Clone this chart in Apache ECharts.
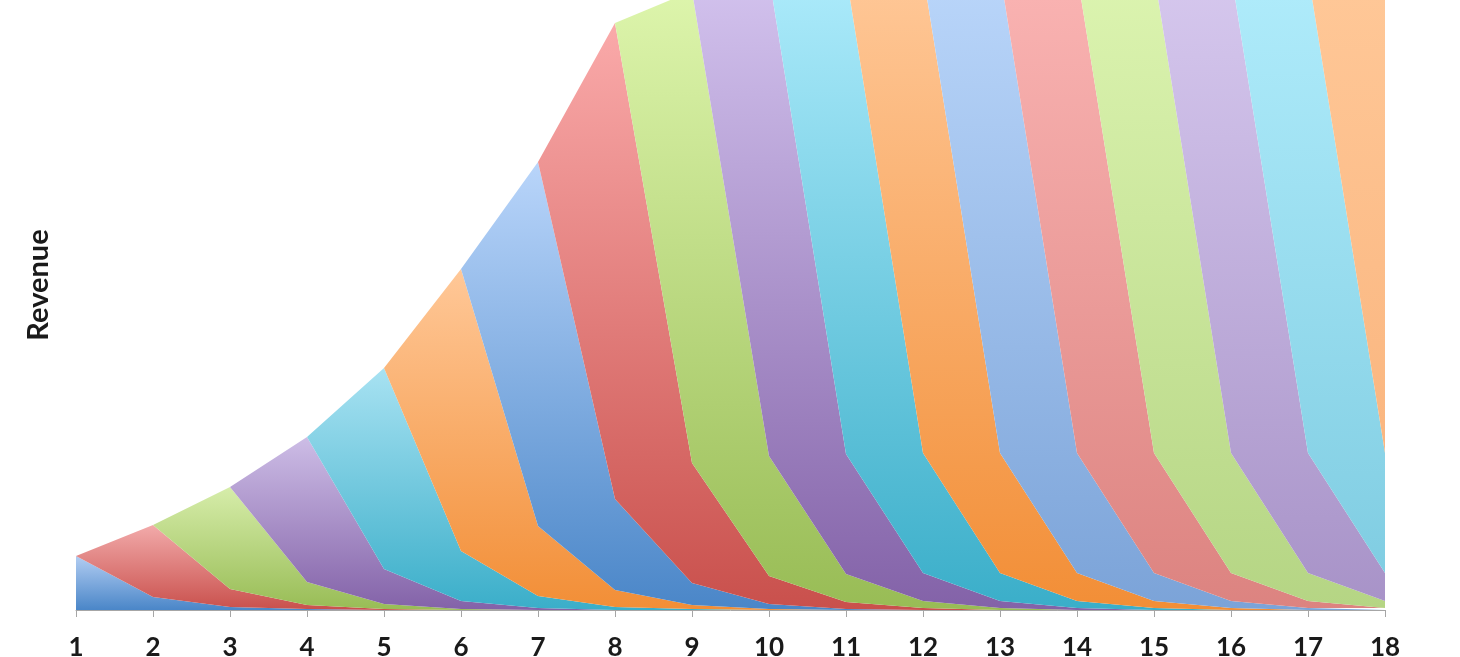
<!DOCTYPE html>
<html><head><meta charset="utf-8">
<script src="https://cdn.jsdelivr.net/npm/echarts@6/dist/echarts.min.js"></script>
<style>html,body{margin:0;padding:0;background:#fff}#c{width:1460px;height:657px}</style>
</head><body><div id="c"></div>
<script>
// Periods on the x axis
const periods = ['1','2','3','4','5','6','7','8','9','10','11','12','13','14','15','16','17','18'];

// Revenue of each cohort by age (age 0 = the period the cohort starts)
const cohort01 = [54, 13, 3, 1];
const cohort02 = [72, 18, 4, 1];
const cohort03 = [102, 23, 5, 1];
const cohort04 = [145, 35, 8, 2];
const cohort05 = [201, 50, 12, 3, 1];
const cohort06 = [282, 70, 17, 4, 1];
const cohort07 = [364, 91, 22, 5, 1];
const cohort08 = [476, 120, 28, 7, 2];
const cohort09 = [472, 120, 28, 7, 2];
const cohort10 = [480, 120, 28, 7, 2];
const cohort11 = [480, 120, 28, 7, 2];
const cohort12 = [480, 120, 28, 7, 2];
const cohort13 = [480, 120, 28, 7, 2];
const cohort14 = [480, 120, 28, 7, 2];
const cohort15 = [480, 120, 28, 7, 2];
const cohort16 = [480, 120, 28, 7, 2];
const cohort17 = [480, 120, 28, 7, 2];
const cohort18 = [480];

const cohorts = [cohort01,cohort02,cohort03,cohort04,cohort05,cohort06,cohort07,cohort08,cohort09,
                 cohort10,cohort11,cohort12,cohort13,cohort14,cohort15,cohort16,cohort17,cohort18];

// styles
const topColors = ['#B2CDF2','#F2AAAA','#D6EDAA','#CDBDE6','#A8E2F2','#FFC898',
                   '#B9D5FA','#FAAAAA','#DDF5AC','#D3C3EE','#ADEBFB','#FFC898',
                   '#BAD6FA','#FAB4B3','#DCF4B0','#D6C8EE','#B0ECFB','#FFC898'];
const bottomColors = ['#4A86C8','#C9504C','#98BC55','#8362A8','#3AAEC9','#F28E36',
                      '#4A86C8','#C9504C','#98BC55','#8362A8','#3AAEC9','#F28E36',
                      '#7BA3D8','#DC8380','#B5D584','#A893C8','#80CDE2','#F9B27A'];

const series = cohorts.map((c, k) => {
  const data = periods.map((p, j) => {
    const age = j - k;
    return (age >= 0 && age < c.length) ? c[age] : 0;
  });
  return {
    name: 'Cohort ' + (k + 1),
    type: 'line',
    stack: 'revenue',
    data: data,
    symbol: 'none',
    showSymbol: false,
    clip: true,
    lineStyle: { width: 0, opacity: 0 },
    areaStyle: {
      opacity: 1,
      color: new echarts.graphic.LinearGradient(0, 0, 0, 1, [
        { offset: 0, color: topColors[k] },
        { offset: 1, color: bottomColors[k] }
      ])
    },
    emphasis: { disabled: true }
  };
});

const chart = echarts.init(document.getElementById('c'), null, { renderer: 'canvas' });
chart.setOption({
  animation: false,
  backgroundColor: '#ffffff',
  grid: { left: 76, right: 75, top: 0, bottom: 47, containLabel: false, outerBoundsMode: 'none' },
  xAxis: {
    type: 'category',
    data: periods,
    boundaryGap: false,
    axisLine: { show: true, lineStyle: { color: '#A6A6A6', width: 1 } },
    axisTick: { show: true, length: 7, interval: 0, lineStyle: { color: '#A6A6A6', width: 1 } },
    axisLabel: { interval: 0, margin: 25, fontFamily: 'Lato', fontWeight: 'bold', fontSize: 26, color: '#1A1A1A' },
    splitLine: { show: false }
  },
  yAxis: {
    type: 'value',
    min: 0,
    max: 610,
    axisLine: { show: false },
    axisTick: { show: false },
    axisLabel: { show: false },
    splitLine: { show: false }
  },
  graphic: [{
    type: 'text',
    x: 39,
    y: 285,
    rotation: Math.PI / 2,
    style: {
      text: 'Revenue',
      fontFamily: 'Lato',
      fontWeight: 'bold',
      fontSize: 29,
      fill: '#1A1A1A',
      align: 'center',
      verticalAlign: 'middle'
    }
  }],
  series: series
});
</script>
</body></html>
